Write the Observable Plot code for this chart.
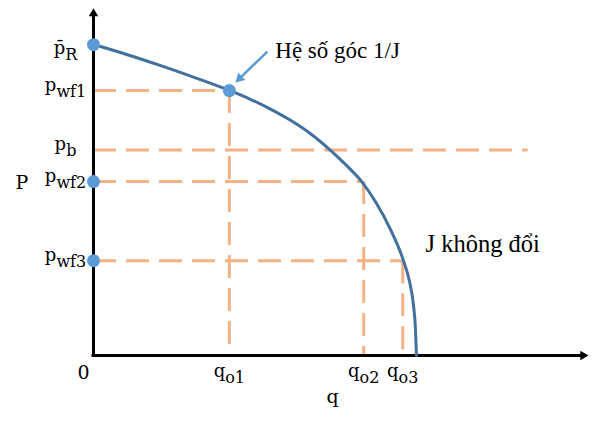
<!DOCTYPE html>
<html><head><meta charset="utf-8">
<script src="https://cdn.jsdelivr.net/npm/d3@7"></script>
<script src="https://cdn.jsdelivr.net/npm/@observablehq/plot@0.6"></script>
<style>body{margin:0;background:#fff}</style>
</head><body><div id="chart"></div>
<script>
// Pressure levels (y) and their labels
const pNames = ["p\u0304_R", "p_wf1", "p_b", "p_wf2", "p_wf3"];
const pValues = [90.1, 76.8, 59.6, 50.4, 27.5];
// Rates (x) and their labels
const qNames = ["q_o1", "q_o2", "q_o3"];
const qValues = [27.5, 54.7, 62.6];
const pbLineEnd = 88.0;
// IPR curve
const curveQ = [0, 6.88, 13.77, 20.65, 27.53, 31.78, 35.83, 39.88, 43.93, 47.98, 51.21, 54.25, 57.09, 60.12, 62.75, 63.97, 64.78, 65.18, 65.38];
const curveP = [90.14, 87.19, 83.94, 80.49, 76.84, 74.26, 71.42, 68.17, 64.29, 59.48, 55.10, 50.46, 44.55, 36.52, 27.48, 21.45, 14.49, 7.54, 0];
// Annotations
const noteSlope = "Hệ số góc 1/J";
const noteJ = "J không đổi";
const axisYLabel = "P";
const axisXLabel = "q";
const originLabel = "0";

const curve = curveQ.map((q, i) => ({q, p: curveP[i]}));
const hDash = [
  {p: pValues[1], q: qValues[0]},
  {p: pValues[2], q: pbLineEnd},
  {p: pValues[3], q: qValues[1]},
  {p: pValues[4], q: qValues[2]}
];
const vDash = [
  {q: qValues[0], p: pValues[1]},
  {q: qValues[1], p: pValues[3]},
  {q: qValues[2], p: pValues[4]}
];
const dots = [
  {q: 0, p: pValues[0]},
  {q: qValues[0], p: pValues[1]},
  {q: 0, p: pValues[3]},
  {q: 0, p: pValues[4]}
];
const yTicks = pNames.map((label, i) => ({label, p: pValues[i], over: label.includes("\u0304")}));
const xTicks = qNames.map((label, i) => ({label, q: qValues[i]}));

const orange = "#f4b183", blue = "#5b9bd5", curveColor = "#41719c";
const serif = "DejaVu Serif";
const times = "Liberation Serif";

const plot = Plot.plot({
  width: 597,
  height: 426,
  marginLeft: 93,
  marginRight: 10,
  marginTop: 10,
  marginBottom: 71,
  x: {domain: [0, 100], axis: null},
  y: {domain: [0, 100], axis: null},
  marks: [
    Plot.ruleY(hDash, {y: "p", x1: 0, x2: "q", stroke: orange, strokeWidth: 3, strokeDasharray: "23,10"}),
    Plot.ruleX(vDash, {x: "q", y1: "p", y2: 0, stroke: orange, strokeWidth: 3, strokeDasharray: "23,10"}),
    Plot.ruleX([0], {y1: 0, y2: 98, stroke: "black", strokeWidth: 3, strokeLinecap: "square"}),
    Plot.ruleY([0], {x1: 0, x2: 98.5, stroke: "black", strokeWidth: 3, strokeLinecap: "square"}),
    Plot.dot([{q: 0, p: 99.1}], {x: "q", y: "p", symbol: "triangle", r: 3.5, fill: "black", stroke: "none"}),
    Plot.dot([{q: 99.1, p: 0}], {x: "q", y: "p", symbol: "triangle", r: 3.5, fill: "black", stroke: "none", rotate: 90}),
    Plot.line(curve, {x: "q", y: "p", curve: "monotone-x", stroke: curveColor, strokeWidth: 3}),
    Plot.dot(dots, {x: "q", y: "p", r: 6.5, fill: blue, stroke: "none"}),
    Plot.link([{x1: 35.2, y1: 88.1, x2: 29.8, y2: 80.6}], {x1: "x1", y1: "y1", x2: "x2", y2: "y2", stroke: blue, strokeWidth: 2.5}),
    Plot.dot([{q: 29.6, p: 80.3}], {x: "q", y: "p", symbol: "triangle", r: 3.8, fill: blue, stroke: "none", rotate: 226}),
    Plot.text(yTicks.filter(d => !d.over), {x: 0, y: "p", text: "label", dx: -28, dy: 0, textAnchor: "middle", lineAnchor: "bottom", fontFamily: serif, fontSize: 18, fill: "black"}),
    Plot.text(yTicks.filter(d => d.over), {x: 0, y: "p", text: "label", dx: -28, dy: 9, textAnchor: "middle", lineAnchor: "bottom", fontFamily: serif, fontSize: 18, fill: "black"}),
    Plot.text(xTicks, {x: "q", y: 0, text: "label", dy: 21, textAnchor: "middle", lineAnchor: "bottom", fontFamily: serif, fontSize: 18, fill: "black"}),
    Plot.text([originLabel], {x: 0, y: 0, text: d => d, dx: -10, dy: 23, textAnchor: "middle", lineAnchor: "bottom", fontFamily: serif, fontSize: 19, fill: "black"}),
    Plot.text([axisYLabel], {frameAnchor: "left", text: d => d, dx: -71.5, dy: 6, textAnchor: "middle", lineAnchor: "bottom", fontFamily: serif, fontSize: 19, fill: "black"}),
    Plot.text([axisXLabel], {frameAnchor: "bottom", text: d => d, dx: -8, dy: 47, textAnchor: "middle", lineAnchor: "bottom", fontFamily: serif, fontSize: 19, fill: "black"}),
    Plot.text([noteSlope], {x: 36.8, y: 86.1, text: d => d, textAnchor: "start", lineAnchor: "bottom", fontFamily: times, fontSize: 23, fill: "black"}),
    Plot.text([noteJ], {x: 67.2, y: 29.9, text: d => d, textAnchor: "start", lineAnchor: "bottom", fontFamily: times, fontSize: 24.5, fill: "black"})
  ]
});

// turn "base_sub" labels into subscripted text
const svgns = "http://www.w3.org/2000/svg";
plot.querySelectorAll("text").forEach(t => {
  const s = t.textContent;
  if (s.includes("_")) {
    const [base, sub] = s.split("_");
    t.textContent = base;
    const ts = document.createElementNS(svgns, "tspan");
    ts.setAttribute("font-size", 16);
    ts.setAttribute("dy", 6);
    ts.textContent = sub;
    t.appendChild(ts);
  }
});
document.getElementById("chart").appendChild(plot);
</script>
</body></html>
